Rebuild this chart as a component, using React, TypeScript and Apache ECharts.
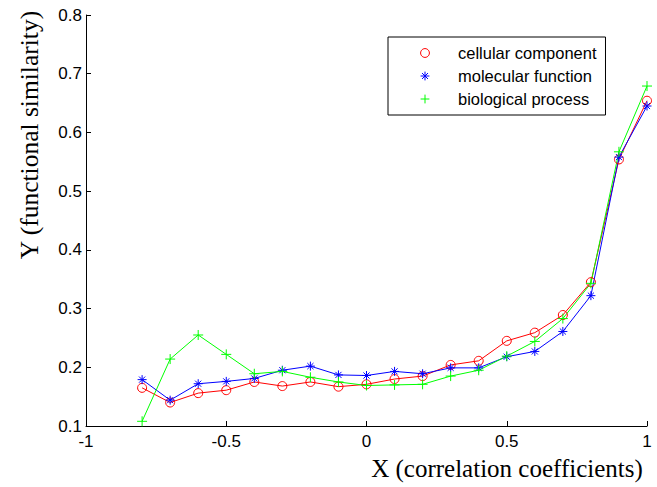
import React, { useEffect, useRef } from "react";
import * as echarts from "echarts";

const xValues = [-0.8, -0.7, -0.6, -0.5, -0.4, -0.3, -0.2, -0.1, 0, 0.1, 0.2, 0.3, 0.4, 0.5, 0.6, 0.7, 0.8, 0.9, 1.0];
const cellular = [0.165, 0.140, 0.156, 0.161, 0.175, 0.168, 0.175, 0.167, 0.171, 0.180, 0.185, 0.204, 0.211, 0.245, 0.259, 0.289, 0.345, 0.554, 0.654];
const molecular = [0.179, 0.144, 0.172, 0.176, 0.181, 0.195, 0.202, 0.187, 0.186, 0.193, 0.189, 0.199, 0.199, 0.218, 0.227, 0.261, 0.322, 0.558, 0.645];
const biological = [0.108, 0.214, 0.255, 0.222, 0.189, 0.193, 0.183, 0.175, 0.169, 0.170, 0.171, 0.185, 0.195, 0.219, 0.244, 0.283, 0.343, 0.567, 0.679];
const seriesNames = ["cellular component", "molecular function", "biological process"];
const xTitle = "X (correlation coefficients)";
const yTitle = "Y (functional similarity)";

const ASTERISK = "path://M0,5L10,5M5,0L5,10M1.6,1.6L8.4,8.4M1.6,8.4L8.4,1.6";
const PLUS = "path://M0,5L10,5M5,0L5,10";

export default function App() {
  const ref = useRef<HTMLDivElement>(null);
  useEffect(() => {
    if (!ref.current) return;
    const chart = echarts.init(ref.current, undefined, { renderer: "svg" });
    const mk = (vals: number[]) => xValues.map((x, i) => [x, vals[i]]);
    const specs = [
      { name: seriesNames[0], data: cellular, color: "#ff0000", symbol: "circle", size: 9 },
      { name: seriesNames[1], data: molecular, color: "#0000ff", symbol: ASTERISK, size: 9 },
      { name: seriesNames[2], data: biological, color: "#00ff00", symbol: PLUS, size: 10 },
    ];
    chart.setOption({
      animation: false,
      backgroundColor: "#ffffff",
      grid: { left: 86, top: 15, right: 10, bottom: 61, containLabel: false },
      xAxis: {
        type: "value",
        min: -1,
        max: 1,
        interval: 0.5,
        axisLine: { show: true, onZero: false, lineStyle: { color: "#000", width: 1 } },
        axisTick: { show: true, inside: true, length: 5, lineStyle: { color: "#000" } },
        axisLabel: {
          color: "#000",
          fontFamily: "Liberation Sans, Arial, sans-serif",
          fontSize: 17,
          margin: 7,
          formatter: (v: number) => String(Math.round(v * 10) / 10),
        },
        splitLine: { show: false },
      },
      yAxis: {
        type: "value",
        min: 0.1,
        max: 0.8,
        interval: 0.1,
        axisLine: { show: true, onZero: false, lineStyle: { color: "#000", width: 1 } },
        axisTick: { show: true, inside: true, length: 5, lineStyle: { color: "#000" } },
        axisLabel: {
          color: "#000",
          fontFamily: "Liberation Sans, Arial, sans-serif",
          fontSize: 17,
          margin: 4,
          formatter: (v: number) => v.toFixed(1),
        },
        splitLine: { show: false },
      },
      legend: {
        left: 388,
        top: 37,
        orient: "vertical",
        data: seriesNames,
        itemWidth: 56,
        itemHeight: 11,
        itemGap: 5,
        padding: [7, 9, 7, 8],
        borderColor: "#000",
        borderWidth: 1,
        backgroundColor: "#fff",
        lineStyle: { opacity: 0 },
        itemStyle: { borderWidth: 1 },
        textStyle: {
          color: "#000",
          fontFamily: "Liberation Sans, Arial, sans-serif",
          fontSize: 16.5,
          lineHeight: 18,
        },
      },
      series: specs.map((s) => ({
        name: s.name,
        type: "line",
        data: mk(s.data),
        symbol: s.symbol,
        symbolSize: s.size,
        showSymbol: true,
        lineStyle: { color: s.color, width: 1 },
        itemStyle: { color: "none", borderColor: s.color, borderWidth: 1 },
        emphasis: { disabled: true },
      })),
      graphic: [
        {
          type: "text",
          x: 507,
          y: 468,
          style: {
            text: xTitle,
            fill: "#000",
            font: "25px 'Liberation Serif', 'Times New Roman', serif",
            textAlign: "center",
            textVerticalAlign: "middle",
          },
        },
        {
          type: "text",
          x: 29,
          y: 135,
          rotation: Math.PI / 2,
          style: {
            text: yTitle,
            fill: "#000",
            font: "25.5px 'Liberation Serif', 'Times New Roman', serif",
            textAlign: "center",
            textVerticalAlign: "middle",
          },
        },
      ],
    });
    return () => chart.dispose();
  }, []);
  return (
    <div
      ref={ref}
      style={{ position: "fixed", left: 0, top: 0, width: 657, height: 487, background: "#fff" }}
    />
  );
}
